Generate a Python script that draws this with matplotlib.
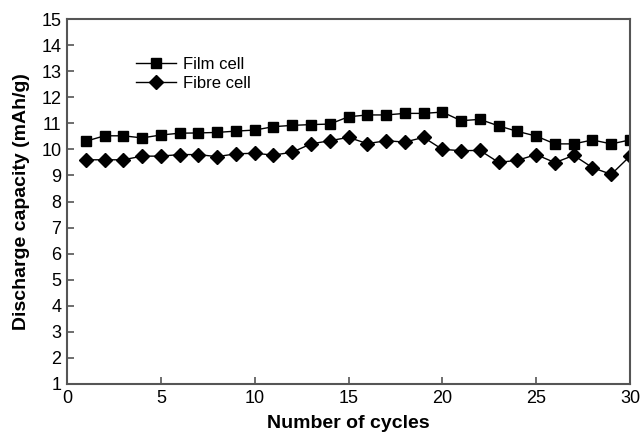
import matplotlib
matplotlib.use("Agg")
import matplotlib.pyplot as plt

plt.rcParams['font.family'] = ['Liberation Sans', 'DejaVu Sans']

cycles = list(range(1, 31))
film_cell = [10.31, 10.52, 10.52, 10.44, 10.55, 10.62, 10.63, 10.65, 10.70, 10.74,
             10.87, 10.92, 10.95, 10.97, 11.25, 11.32, 11.32, 11.38, 11.38, 11.43,
             11.10, 11.15, 10.90, 10.69, 10.51, 10.21, 10.21, 10.36, 10.21, 10.36]
fibre_cell = [9.60, 9.60, 9.60, 9.74, 9.74, 9.80, 9.80, 9.72, 9.83, 9.85,
              9.78, 9.89, 10.21, 10.33, 10.46, 10.22, 10.33, 10.28, 10.46, 10.00,
              9.95, 9.96, 9.50, 9.58, 9.80, 9.49, 9.77, 9.30, 9.04, 9.74]
xticks = [0, 5, 10, 15, 20, 25, 30]
yticks = list(range(1, 16))

fig = plt.figure(figsize=(6.43, 4.37), dpi=100)
ax = fig.add_axes([0.1042, 0.1213, 0.8756, 0.8352])

ax.plot(cycles, film_cell, color='black', marker='s', markersize=6.5, linewidth=1.0,
        label='Film cell')
ax.plot(cycles, fibre_cell, color='black', marker='D', markersize=7, linewidth=1.0,
        label='Fibre cell')

ax.set_xlim(0, 30)
ax.set_ylim(1, 15)
ax.set_xticks(xticks)
ax.set_yticks(yticks)
ax.tick_params(direction='in', length=5, width=1.2, labelsize=13, color='#555555',
               top=False, right=False, pad=4)
for s in ax.spines.values():
    s.set_color('#555555')
    s.set_linewidth(1.5)

ax.set_xlabel('Number of cycles', fontsize=14, fontweight='bold', labelpad=6)
ax.set_ylabel('Discharge capacity (mAh/g)', fontsize=14, fontweight='bold', labelpad=8)

ax.legend(loc='upper left', bbox_to_anchor=(0.11, 0.915), frameon=False, fontsize=12,
          handlelength=2.4, handletextpad=0.45, labelspacing=0.25, borderaxespad=0)

fig.savefig('out.png', dpi=100)
